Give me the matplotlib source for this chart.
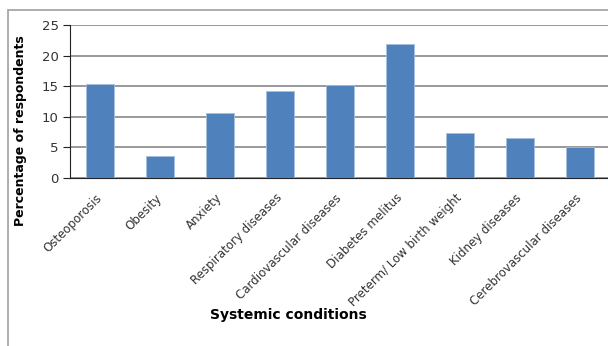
import matplotlib
matplotlib.use("Agg")
import matplotlib.pyplot as plt
from matplotlib.patches import Rectangle

conditions = ["Osteoporosis", "Obesity", "Anxiety", "Respiratory diseases",
              "Cardiovascular diseases", "Diabetes melitus",
              "Preterm/ Low birth weight", "Kidney diseases",
              "Cerebrovascular diseases"]
percentages = [15.4, 3.6, 10.7, 14.2, 15.2, 21.9, 7.3, 6.5, 5.0]
yticks = [0, 5, 10, 15, 20, 25]

W, H = 608, 346
fig = plt.figure(figsize=(W / 100, H / 100), dpi=100)

# outer frame (clipped by the figure edge on the right and bottom)
fig.patches.append(Rectangle((8 / W, -0.1), 1.2, 1 - 10 / H + 0.1,
                             transform=fig.transFigure, fill=False,
                             edgecolor="#a0a0a0", linewidth=1.2))

ax = fig.add_axes([70 / W, 1 - 178 / H, 540 / W, 153 / H])
x = range(len(conditions))
ax.bar(x, percentages, width=0.48, color="#4f81bd", edgecolor="#a7c0de",
       linewidth=0.6, zorder=3)
ax.set_xlim(-0.5, len(conditions) - 0.5)
ax.set_ylim(0, 25)
ax.set_yticks(yticks)
ax.yaxis.grid(True, color="#888888", linewidth=1.2, zorder=0)
for side in ("top", "right"):
    ax.spines[side].set_visible(False)
ax.spines["left"].set_color("#222222")
ax.spines["bottom"].set_color("#222222")
ax.tick_params(axis="y", length=5, direction="out", color="#222222",
               labelsize=9.5, labelcolor="#333333", pad=3)
ax.tick_params(axis="x", length=0, pad=13)
ax.set_xticks(list(x))
ax.set_xticklabels(conditions, rotation=45, ha="right", va="center",
                   rotation_mode="anchor", fontsize=8.5, color="#333333")

fig.text(288 / W, 1 - 315 / H, "Systemic conditions", ha="center",
         va="center", fontsize=10, fontweight="bold")
fig.text(21 / W, 1 - 131 / H, "Percentage of respondents", ha="center",
         va="center", rotation=90, fontsize=9, fontweight="bold")

fig.savefig("out.png", dpi=100)
